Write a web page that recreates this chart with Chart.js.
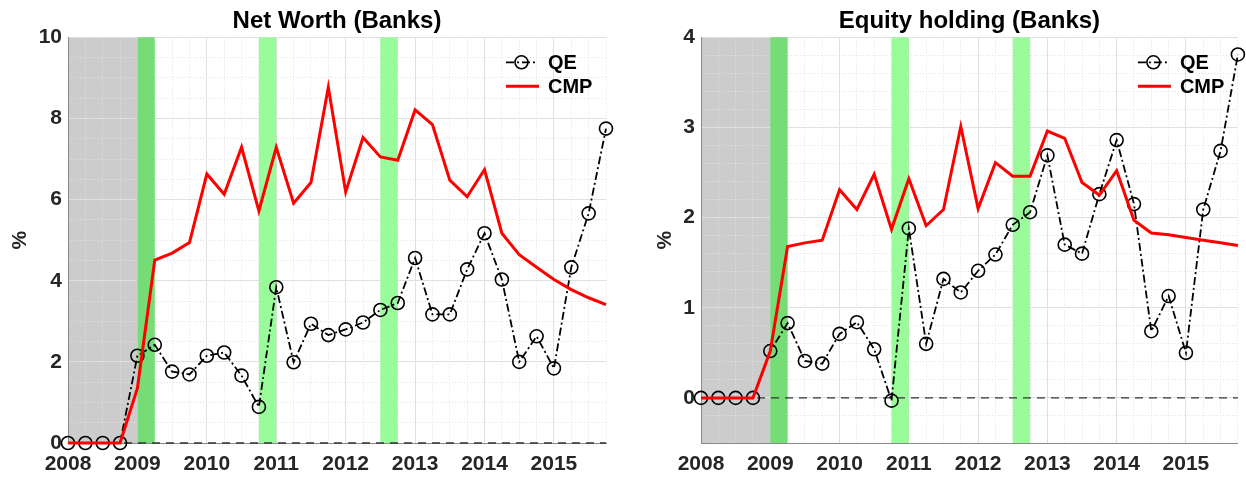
<!DOCTYPE html>
<html>
<head>
<meta charset="utf-8">
<script src="https://cdn.jsdelivr.net/npm/chart.js@4.4.1/dist/chart.umd.min.js"></script>
<style>
  html, body { margin: 0; padding: 0; background: #ffffff; }
  #wrap { position: relative; width: 1246px; height: 481px; overflow: hidden; }
  .panel { position: absolute; top: 0; width: 623px; height: 481px; }
</style>
</head>
<body>
<div id="wrap">
  <div class="panel" style="left:0"><canvas id="netWorth" width="623" height="481"></canvas></div>
  <div class="panel" style="left:623px"><canvas id="equity" width="623" height="481"></canvas></div>
</div>
<script>
// Quarterly dates (decimal years)
const quarters = [
  2008, 2008.25, 2008.5, 2008.75, 2009, 2009.25, 2009.5, 2009.75,
  2010, 2010.25, 2010.5, 2010.75, 2011, 2011.25, 2011.5, 2011.75,
  2012, 2012.25, 2012.5, 2012.75, 2013, 2013.25, 2013.5, 2013.75,
  2014, 2014.25, 2014.5, 2014.75, 2015, 2015.25, 2015.5, 2015.75
];
const yearTicks = [2008, 2009, 2010, 2011, 2012, 2013, 2014, 2015];

// Net worth of banks, % deviation
const netWorthQE = [
  0, 0, 0, 0, 2.15, 2.42, 1.76, 1.69,
  2.15, 2.23, 1.66, 0.89, 3.84, 1.99, 2.94, 2.66,
  2.80, 2.97, 3.28, 3.45, 4.56, 3.17, 3.17, 4.28,
  5.17, 4.03, 2.00, 2.63, 1.84, 4.33, 5.66, 7.75
];
const netWorthCMP = [
  0, 0, 0, 0, 1.35, 4.51, 4.68, 4.94,
  6.63, 6.13, 7.29, 5.72, 7.29, 5.91, 6.42, 8.77,
  6.19, 7.53, 7.05, 6.97, 8.21, 7.85, 6.48, 6.07,
  6.74, 5.17, 4.64, 4.33, 4.03, 3.78, 3.58, 3.41
];

// Equity holding of banks, % deviation
const equityQE = [
  0, 0, 0, 0, 0.52, 0.83, 0.41, 0.38,
  0.71, 0.84, 0.54, -0.03, 1.88, 0.60, 1.32, 1.17,
  1.41, 1.59, 1.92, 2.06, 2.69, 1.70, 1.60, 2.26,
  2.86, 2.15, 0.74, 1.13, 0.50, 2.09, 2.74, 3.81
];
const equityCMP = [
  0, 0, 0, 0, 0.52, 1.68, 1.72, 1.75,
  2.31, 2.09, 2.48, 1.87, 2.43, 1.91, 2.09, 3.01,
  2.10, 2.61, 2.46, 2.46, 2.96, 2.88, 2.39, 2.25,
  2.52, 1.97, 1.83, 1.81, 1.78, 1.75, 1.72, 1.69
];

const netWorthYTicks = [0, 2, 4, 6, 8, 10];
const equityYTicks = [0, 1, 2, 3, 4];

// Shaded periods: crisis window and the three purchase rounds
const crisisPeriod = [2008, 2009];
const purchaseRounds = [[2009, 2009.25], [2010.75, 2011], [2012.5, 2012.75]];

const FONT = '"Liberation Sans", Arial, Helvetica, sans-serif';
const TEXT = '#262626';

// gray crisis window under the grid, green rounds above it
const shading = {
  id: 'shading',
  beforeDraw(chart) {
    const { ctx, chartArea: { top, bottom }, scales: { x } } = chart;
    const a = x.getPixelForValue(crisisPeriod[0]);
    const b = x.getPixelForValue(crisisPeriod[1]);
    ctx.save();
    ctx.fillStyle = '#cccccc';
    ctx.fillRect(a, top, b - a, bottom - top);
    ctx.restore();
  },
  beforeDatasetsDraw(chart) {
    const { ctx, chartArea: { top, bottom }, scales: { x } } = chart;
    ctx.save();
    purchaseRounds.forEach((r, i) => {
      const a = x.getPixelForValue(r[0]);
      const b = x.getPixelForValue(r[1]);
      ctx.fillStyle = i === 0 ? '#76dc76' : '#99fb99';
      ctx.fillRect(a, top, b - a, bottom - top);
    });
    ctx.restore();
  }
};

// legend box in the upper right corner of the plot
const seriesKey = {
  id: 'seriesKey',
  afterDraw(chart) {
    const { ctx, chartArea: { top, right } } = chart;
    const sets = chart.data.datasets;
    const qe = sets.find(d => d.label === 'QE');
    const cmp = sets.find(d => d.label === 'CMP');
    const x0 = right - 100, x1 = right - 69, tx = right - 58;
    ctx.save();
    ctx.font = 'bold 20px ' + FONT;
    ctx.textBaseline = 'middle';
    ctx.fillStyle = '#000000';

    let y = top + 25;
    ctx.strokeStyle = qe.borderColor;
    ctx.lineWidth = qe.borderWidth;
    ctx.setLineDash(qe.borderDash);
    ctx.beginPath(); ctx.moveTo(x0, y); ctx.lineTo(x1, y); ctx.stroke();
    ctx.setLineDash([]);
    ctx.lineWidth = qe.pointBorderWidth;
    ctx.beginPath(); ctx.arc((x0 + x1) / 2, y, qe.pointRadius, 0, Math.PI * 2); ctx.stroke();
    ctx.fillText(qe.label, tx, y + 1);

    y = top + 49;
    ctx.strokeStyle = cmp.borderColor;
    ctx.lineWidth = cmp.borderWidth;
    ctx.beginPath(); ctx.moveTo(x0, y); ctx.lineTo(x1 + 2, y); ctx.stroke();
    ctx.fillText(cmp.label, tx, y + 1);
    ctx.restore();
  }
};

function buildChart(id, opts) {
  const pts = arr => quarters.map((q, i) => ({ x: q, y: arr[i] }));
  const xMin = quarters[0], xMax = quarters[quarters.length - 1];
  const tickFont = { family: FONT, size: 21, weight: 'bold' };

  return new Chart(document.getElementById(id), {
    type: 'line',
    data: {
      datasets: [
        {
          label: 'CMP', data: pts(opts.cmp), xAxisID: 'x', yAxisID: 'y',
          borderColor: '#ff0000', borderWidth: 3, pointRadius: 0,
          tension: 0, clip: false
        },
        {
          label: 'QE', data: pts(opts.qe), xAxisID: 'x', yAxisID: 'y',
          borderColor: '#000000', borderWidth: 1.8, borderDash: [8, 3, 2, 3],
          pointRadius: 6.5, pointBorderWidth: 1.6, pointBorderColor: '#000000',
          pointBackgroundColor: 'rgba(0,0,0,0)', tension: 0, clip: false
        },
        {
          label: 'zero', data: [{ x: xMin, y: 0 }, { x: xMax, y: 0 }], xAxisID: 'x', yAxisID: 'y',
          borderColor: '#333333', borderWidth: 1.3, borderDash: [8, 6], pointRadius: 0, clip: false
        }
      ]
    },
    options: {
      responsive: false,
      devicePixelRatio: 1,
      animation: false,
      events: [],
      layout: { padding: opts.padding },
      plugins: {
        legend: { display: false },
        tooltip: { enabled: false },
        title: {
          display: true, text: opts.title, fullSize: false, color: '#000000',
          font: { family: FONT, size: 24, weight: 'bold' },
          padding: { top: 7, bottom: 1.5 }
        }
      },
      scales: {
        x: {
          type: 'linear', position: 'bottom', min: xMin, max: xMax,
          afterBuildTicks: s => { s.ticks = yearTicks.map(v => ({ value: v })); },
          ticks: { font: tickFont, color: TEXT, padding: 9, autoSkip: false, maxRotation: 0,
                   callback: v => String(v) },
          grid: { color: '#e0e0e0', lineWidth: 1, drawTicks: false },
          border: { color: '#8a8a8a', width: 1 },
          afterFit: s => { s.height = 38; }
        },
        xMinor: {
          type: 'linear', position: 'bottom', min: xMin, max: xMax,
          afterBuildTicks: s => {
            s.ticks = quarters.filter(q => !yearTicks.includes(q)).map(v => ({ value: v }));
          },
          ticks: { display: false },
          grid: { color: '#e2e2e2', lineWidth: 1, drawTicks: false },
          border: { display: false, dash: [1, 2] },
          afterFit: s => { s.height = 0; }
        },
        y: {
          type: 'linear', position: 'left', min: opts.yMin, max: opts.yMax,
          afterBuildTicks: s => { s.ticks = opts.yTicks.map(v => ({ value: v })); },
          ticks: { font: tickFont, color: TEXT, padding: 6, callback: v => String(v) },
          grid: { color: '#e0e0e0', lineWidth: 1, drawTicks: false },
          border: { color: '#8a8a8a', width: 1 },
          title: { display: true, text: '%', color: TEXT,
                   font: { family: FONT, size: 21, weight: 'bold' }, padding: { top: 8, bottom: 0 } },
          afterFit: s => { s.width = opts.yWidth; }
        },
        yMinor: {
          type: 'linear', position: 'left', min: opts.yMin, max: opts.yMax,
          ticks: { display: false, stepSize: opts.minorStep },
          grid: {
            color: c => (opts.yTicks.includes(Math.round(c.tick.value * 1000) / 1000) ? 'rgba(0,0,0,0)' : '#e2e2e2'),
            lineWidth: 1, drawTicks: false
          },
          border: { display: false, dash: [1, 2] },
          afterFit: s => { s.width = 0; }
        }
      }
    },
    plugins: [shading, seriesKey]
  });
}

buildChart('netWorth', {
  title: 'Net Worth (Banks)',
  qe: netWorthQE, cmp: netWorthCMP,
  yMin: 0, yMax: 10, yTicks: netWorthYTicks, minorStep: 0.5,
  yWidth: 68, padding: { left: 0, right: 17, top: 0, bottom: 0 }
});

buildChart('equity', {
  title: 'Equity holding (Banks)',
  qe: equityQE, cmp: equityCMP,
  yMin: -0.5, yMax: 4, yTicks: equityYTicks, minorStep: 0.2,
  yWidth: 56, padding: { left: 22, right: 6.5, top: 0, bottom: 0 }
});
</script>
</body>
</html>
